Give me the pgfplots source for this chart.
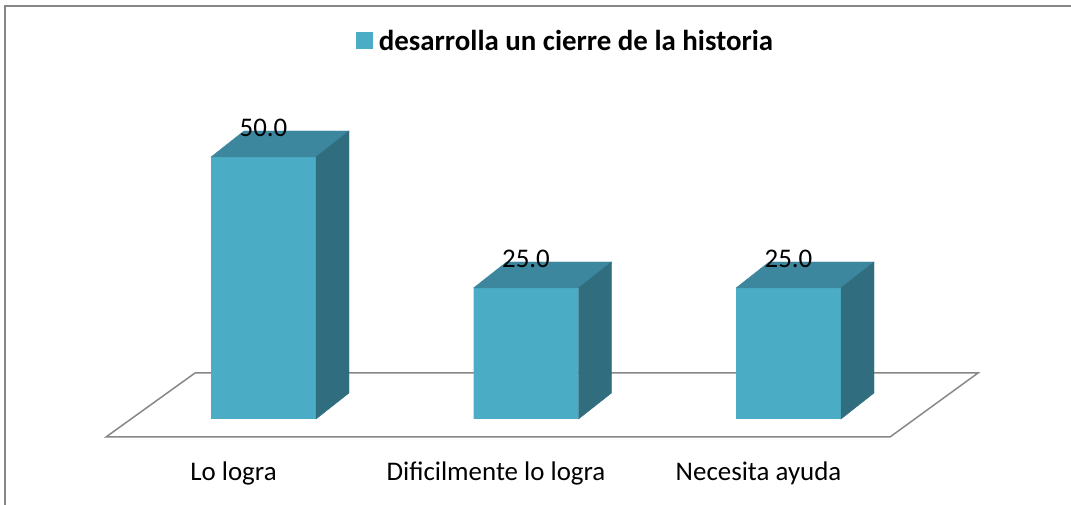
\documentclass[border=0pt]{standalone}
\usepackage{pgfplots}
\pgfplotsset{compat=1.18}
\usepackage{fontspec}
\setmainfont{Carlito}
\definecolor{barfront}{HTML}{4BACC6}
\definecolor{bartop}{HTML}{3C879E}
\definecolor{barside}{HTML}{2F6D7F}
\definecolor{framegray}{HTML}{878787}
\begin{document}
\begin{tikzpicture}[x=1bp,y=1bp]
\useasboundingbox (0,0) rectangle (1071,505);
% chart frame (only left and top edges are inside the crop)
\draw[framegray, line width=2.2bp] (5.3,0) -- (5.3,499) -- (1071,499);
% floor of the 3D plot area
\draw[framegray, line width=1.5bp, line join=miter] (106,68) -- (890,68) -- (978,132) -- (195,132) -- cycle;
\begin{axis}[
  at={(263.5bp,86bp)}, anchor=origin,
  x=262.5bp, y=5.24bp,
  xmin=-0.9, xmax=2.9, ymin=0, ymax=60,
  clip=false,
  axis line style={draw=none},
  major tick length=0pt,
  ytick=\empty,
  xtick={0,1,2},
  xticklabels={Lo logra,Dificilmente lo logra,Necesita ayuda},
  xticklabel style={anchor=base, xshift=-30bp, yshift=-62bp, font=\fontsize{27}{31}\selectfont},
  legend style={at={(0.5396,1.2023)}, anchor=center, draw=none, fill=none,
    column sep=4bp, font=\bfseries\fontsize{29}{33}\selectfont},
  legend image code/.code={\fill[barfront] (0bp,-8.5bp) rectangle (17bp,8.5bp);},
]
% front faces
\addplot[ybar, bar width=105bp, bar shift=0pt, fill=barfront, draw=none]
  coordinates {(0,50) (1,25) (2,25)};
\addlegendentry{desarrolla un cierre de la historia}
% top and side faces
\addplot[forget plot, scatter, only marks, mark=*, mark size=0pt,
  mark options={draw=none, fill=none},
  point meta=y,
  visualization depends on={rawy \as \ry},
  scatter/@pre marker code/.code={
    \pgfmathsetmacro\h{\ry*5.24}
    \pgfmathsetmacro\hb{26-\ry*5.24}
    \fill[bartop] (-52.5bp,0bp) -- (52.5bp,0bp) -- (85.5bp,26bp) -- (-19.5bp,26bp) -- cycle;
    \fill[barside] (52.5bp,0bp) -- (85.5bp,26bp) -- (85.5bp,\hb bp) -- (52.5bp,-\h bp) -- cycle;
  },
  scatter/@post marker code/.code={},
] coordinates {(0,50) (1,25) (2,25)};
% value labels
\addplot[forget plot, only marks, mark=none, point meta=y,
  nodes near coords={\pgfmathprintnumber[fixed,fixed zerofill,precision=1,assume math mode=true]{\pgfplotspointmeta}},
  nodes near coords style={anchor=base, yshift=20bp, font=\fontsize{27}{31}\selectfont, text=black},
] coordinates {(0,50) (1,25) (2,25)};
\end{axis}
\end{tikzpicture}
\end{document}
